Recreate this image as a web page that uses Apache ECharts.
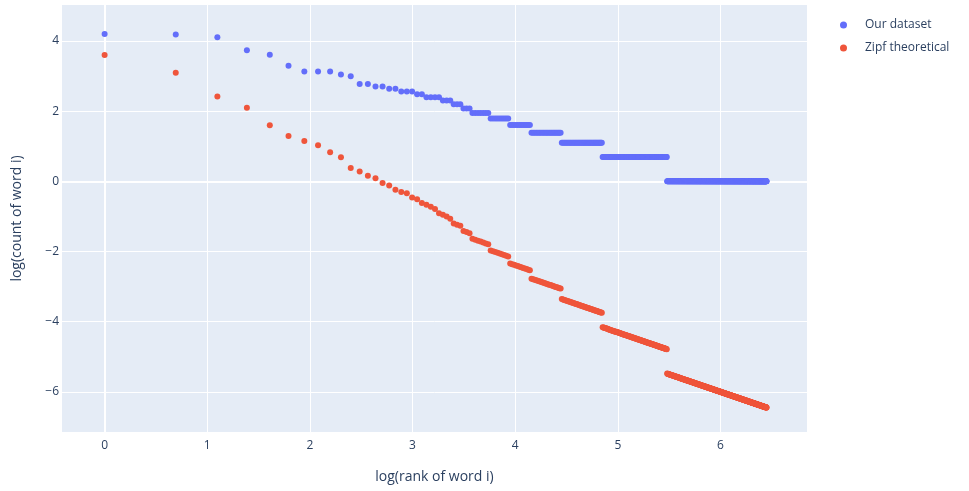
<!DOCTYPE html>
<html><head><meta charset="utf-8">
<script src="https://cdn.jsdelivr.net/npm/echarts@6/dist/echarts.min.js"></script>
<style>html,body{margin:0;padding:0;background:#fff}#chart{width:969px;height:491px}</style>
</head><body><div id="chart"></div>
<script>
const seriesNames = ['Our dataset', 'Zipf theoretical'];
const xTicks = [0, 1, 2, 3, 4, 5, 6];
const yTicks = [-6, -4, -2, 0, 2, 4];
// word counts by rank: [count, number of consecutive ranks having that count]
const countRuns = [
  [67, 1], [66, 1], [61, 1], [42, 1], [37, 1], [27, 1], [23, 3], [21, 1], [20, 1],
  [16, 2], [15, 2], [14, 2], [13, 3], [12, 2], [11, 4], [10, 3], [9, 3], [8, 3],
  [7, 7], [6, 9], [5, 12], [4, 22], [3, 42], [2, 112], [1, 393]
];
// Zipf theoretical values (log) read for the first ranks
const zipfHead = [3.60, 3.10, 2.42, 2.10, 1.60, 1.29, 1.15, 1.03, 0.83, 0.69,
  0.38, 0.28, 0.16, 0.09, -0.05, -0.12, -0.24, -0.30, -0.34, -0.46,
  -0.51, -0.62, -0.67, -0.72, -0.79, -0.91, -0.95, -1.00];

const counts = [];
countRuns.forEach(([c, n]) => { for (let i = 0; i < n; i++) counts.push(c); });
const ours = counts.map((c, i) => [Math.log(i + 1), Math.log(c)]);
const zipf = counts.map((c, i) => [Math.log(i + 1),
  i < zipfHead.length ? zipfHead[i] : Math.log(c / (i + 1))]);

const FONT = '"Open Sans", verdana, arial, sans-serif';
const TXT = '#2a3f5f';
const chart = echarts.init(document.getElementById('chart'), null, {renderer: 'canvas'});
chart.setOption({
  animation: false,
  backgroundColor: '#fff',
  textStyle: {fontFamily: FONT},
  grid: {left: 62, right: 162, top: 5, bottom: 59, show: true,
         backgroundColor: '#E5ECF6', borderWidth: 0},
  legend: {
    data: seriesNames, orient: 'vertical', left: 835, top: 12, padding: 5,
    itemWidth: 7, itemHeight: 7, itemGap: 7, icon: 'circle',
    textStyle: {color: TXT, fontSize: 12, fontFamily: FONT, lineHeight: 16,
                padding: [0, 0, 0, 13]}
  },
  xAxis: {
    type: 'value', min: -0.415, max: 6.843,
    axisLine: {show: false},
    axisTick: {show: false, customValues: xTicks},
    axisLabel: {customValues: xTicks, color: TXT, fontSize: 12, fontFamily: FONT, margin: 8},
    splitLine: {show: true, lineStyle: {color: '#fff', width: 1}},
    name: 'log(rank of word i)', nameLocation: 'middle', nameGap: 38,
    nameTextStyle: {color: TXT, fontSize: 14, fontFamily: FONT}
  },
  yAxis: {
    type: 'value', min: -7.145, max: 5.028,
    axisLine: {show: false},
    axisTick: {show: false, customValues: yTicks},
    axisLabel: {customValues: yTicks, color: TXT, fontSize: 12, fontFamily: FONT, margin: 3,
                formatter: v => (v < 0 ? '\u2212' + Math.abs(v) : String(v))},
    splitLine: {show: true, lineStyle: {color: '#fff', width: 1}},
    name: 'log(count of word i)', nameLocation: 'middle', nameGap: 38,
    nameTextStyle: {color: TXT, fontSize: 14, fontFamily: FONT}
  },
  series: [
    {name: 'zero', type: 'line', data: [], z: 1, silent: true,
     markLine: {silent: true, z: 1, symbol: ['none', 'none'], label: {show: false},
       lineStyle: {color: '#fff', width: 2, type: 'solid'},
       data: [{yAxis: 0}, {xAxis: 0}]}},
    {name: seriesNames[0], type: 'scatter', data: ours, symbolSize: 6, z: 3,
     itemStyle: {color: '#636EFA', opacity: 1}},
    {name: seriesNames[1], type: 'scatter', data: zipf, symbolSize: 6, z: 3,
     itemStyle: {color: '#EF553B', opacity: 1}}
  ]
});
</script></body></html>
